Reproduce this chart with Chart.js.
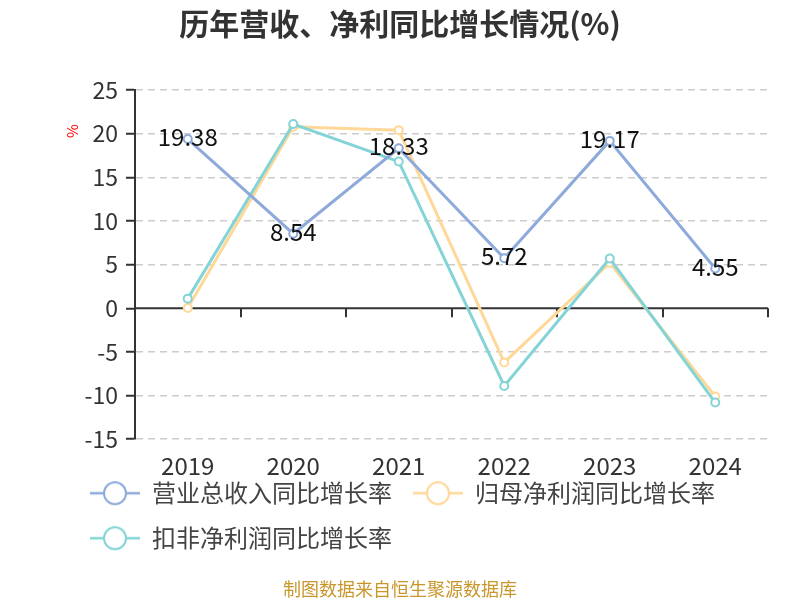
<!DOCTYPE html>
<html>
<head>
<meta charset="utf-8">
<script src="https://cdn.jsdelivr.net/npm/chart.js@4"></script>
<style>
  html, body { margin: 0; padding: 0; background: #fff; }
  #wrap { width: 800px; height: 600px; }
</style>
</head>
<body>
<div id="wrap"><canvas id="chart" width="800" height="600"></canvas></div>
<script>
const years = ['2019', '2020', '2021', '2022', '2023', '2024'];
const revenueGrowth = [19.38, 8.54, 18.33, 5.72, 19.17, 4.55];
const netProfitGrowth = [0.02, 20.8, 20.4, -6.2, 5.2, -10.1];
const deductedProfitGrowth = [1.1, 21.1, 16.8, -8.9, 5.7, -10.8];
const seriesNames = ['营业总收入同比增长率', '归母净利润同比增长率', '扣非净利润同比增长率'];
const seriesColors = ['#8eaadb', '#ffd898', '#84d4d7'];
const yTicks = { min: -15, max: 25, step: 5 };

const FONT = '"Noto Sans CJK SC", "Noto Sans", sans-serif';

// legend symbol: short line with a hollow circle
function legendIcon(color) {
    const c = document.createElement('canvas');
    c.width = 50; c.height = 26;
    const g = c.getContext('2d');
    g.strokeStyle = color;
    g.lineWidth = 2.5;
    g.beginPath(); g.moveTo(0, 13); g.lineTo(50, 13); g.stroke();
    g.beginPath(); g.arc(25, 13, 11, 0, Math.PI * 2);
    g.fillStyle = '#fff'; g.fill();
    g.lineWidth = 2; g.stroke();
    return c;
}
const icons = seriesColors.map(legendIcon);

const extras = {
    id: 'extras',
    afterLayout(chart) {
        // legend sits closer to the axis labels, title centred on the whole canvas
        const lg = chart.legend;
        const top = chart.chartArea.bottom + 21;
        lg.top = top;
        lg.bottom = top + lg.height;
        const t = chart.titleBlock;
        t.left = 0; t.right = chart.width; t.width = chart.width;
    },
    beforeDatasetsDraw(chart) {
        const { ctx, chartArea } = chart;
        const y0 = chart.scales.y.getPixelForValue(0);
        const n = years.length;
        const w = (chartArea.right - chartArea.left) / n;
        ctx.save();
        ctx.strokeStyle = '#333';
        ctx.lineWidth = 2;
        ctx.beginPath();
        ctx.moveTo(chartArea.left, y0); ctx.lineTo(chartArea.right, y0);
        for (let i = 1; i <= n; i++) {
            const x = Math.round(chartArea.left + w * i);
            ctx.moveTo(x, y0); ctx.lineTo(x, y0 + 9);
        }
        ctx.stroke();
        ctx.restore();
    },
    afterDatasetsDraw(chart) {
        const { ctx } = chart;
        const meta = chart.getDatasetMeta(0);
        ctx.save();
        ctx.font = '24px ' + FONT;
        ctx.fillStyle = '#111';
        ctx.textAlign = 'center';
        ctx.textBaseline = 'middle';
        meta.data.forEach((pt, i) => {
            ctx.fillText(revenueGrowth[i].toFixed(2), pt.x, pt.y - 2);
        });
        ctx.restore();
    },
    afterDraw(chart) {
        const { ctx } = chart;
        ctx.save();
        ctx.translate(72, 131);
        ctx.rotate(-Math.PI / 2);
        ctx.font = '15px ' + FONT;
        ctx.fillStyle = '#f00';
        ctx.textAlign = 'center';
        ctx.textBaseline = 'middle';
        ctx.fillText('%', 0, 0);
        ctx.restore();

        ctx.save();
        ctx.font = '18px ' + FONT;
        ctx.fillStyle = '#c9962b';
        ctx.textAlign = 'center';
        ctx.textBaseline = 'middle';
        ctx.fillText('制图数据来自恒生聚源数据库', 400, 589);
        ctx.restore();
    }
};

const dataSets = [revenueGrowth, netProfitGrowth, deductedProfitGrowth];
const orders = [0, 2, 1];

new Chart(document.getElementById('chart'), {
    type: 'line',
    data: {
        labels: years,
        datasets: dataSets.map((d, i) => ({
            label: seriesNames[i],
            data: d,
            borderColor: seriesColors[i],
            backgroundColor: '#fff',
            borderWidth: 3,
            pointRadius: 4,
            pointBorderWidth: 2,
            pointBackgroundColor: '#fff',
            pointBorderColor: seriesColors[i],
            tension: 0,
            order: orders[i]
        }))
    },
    options: {
        responsive: false,
        animation: false,
        layout: { padding: { left: 69, right: 32, top: 0, bottom: 8 } },
        plugins: {
            title: {
                display: true,
                text: '历年营收、净利同比增长情况(%)',
                color: '#333',
                font: { family: FONT, size: 30, weight: 'bold' },
                padding: { top: 6, bottom: 48 }
            },
            legend: {
                position: 'bottom',
                align: 'start',
                labels: {
                    usePointStyle: true,
                    pointStyleWidth: 50,
                    padding: 21,
                    color: '#444',
                    font: { family: FONT, size: 24 },
                    generateLabels(chart) {
                        return chart.data.datasets.map((ds, i) => ({
                            text: ds.label,
                            datasetIndex: i,
                            pointStyle: icons[i],
                            fillStyle: '#fff',
                            strokeStyle: seriesColors[i],
                            fontColor: '#444',
                            hidden: false
                        }));
                    }
                }
            },
            tooltip: { enabled: false }
        },
        scales: {
            x: {
                offset: true,
                grid: { display: false, drawTicks: false },
                border: { display: false },
                ticks: { color: '#333', font: { family: FONT, size: 24 }, padding: 12 }
            },
            y: {
                min: yTicks.min,
                max: yTicks.max,
                ticks: { stepSize: yTicks.step, color: '#333', font: { family: FONT, size: 23 }, padding: 8 },
                grid: {
                    color: ctx => (ctx.tick && ctx.tick.value === 0) ? 'rgba(0,0,0,0)' : '#cccccc',
                    lineWidth: 1.5,
                    tickColor: '#333',
                    tickWidth: 2,
                    tickLength: 9
                },
                border: { display: true, color: '#333', width: 2, dash: [7, 5] },
                afterFit(scale) { scale.width = 66; }
            }
        }
    },
    plugins: [extras]
});
</script>
</body>
</html>
